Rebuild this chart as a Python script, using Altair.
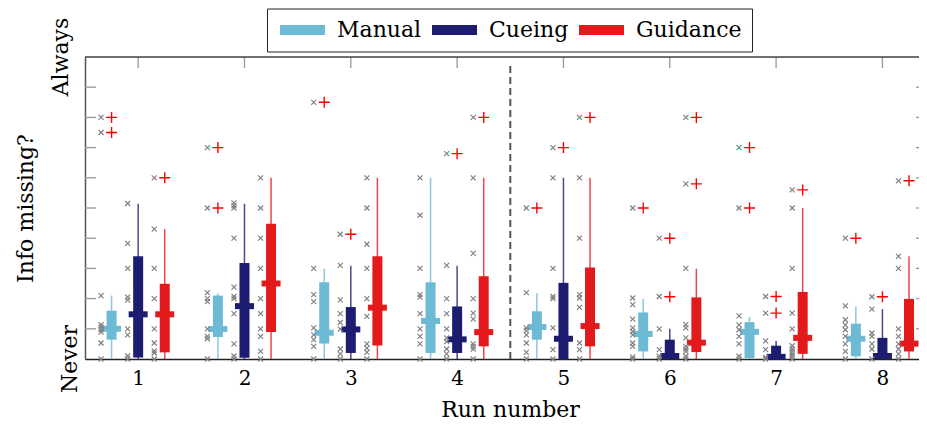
import altair as alt
import pandas as pd

runs = [1, 2, 3, 4, 5, 6, 7, 8]
groups = ["Manual", "Cueing", "Guidance"]
colors = ["#6dbad5", "#1c1c70", "#e31a1c"]
offsets = [-0.25, 0.0, 0.25]

# box statistics per group (one value per run)
manual_low = [0, 0, 0, 0, 0, 0, 0, 0]
manual_q1 = [0.64, 0.73, 0.51, 0.20, 0.64, 0.25, 0.03, 0.09]
manual_med = [1.00, 0.99, 0.87, 1.26, 1.06, 0.83, 0.90, 0.67]
manual_q3 = [1.60, 2.10, 2.54, 2.54, 1.58, 1.54, 1.22, 1.17]
manual_high = [2.10, 2.18, 2.99, 6.00, 2.18, 1.99, 1.39, 1.74]

cueing_low = [0, 0, 0, 0, 0, 0, 0, 0]
cueing_q1 = [0.05, 0.04, 0.20, 0.20, 0.00, 0.00, 0.00, 0.00]
cueing_med = [1.48, 1.75, 0.98, 0.65, 0.67, 0.10, 0.07, 0.10]
cueing_q3 = [3.40, 3.18, 1.72, 1.74, 2.52, 0.64, 0.44, 0.70]
cueing_high = [5.14, 5.14, 3.09, 3.09, 6.00, 1.00, 0.60, 1.65]

guidance_low = [0, 0, 0, 0, 0, 0, 0, 0]
guidance_q1 = [0.22, 0.89, 0.45, 0.42, 0.42, 0.23, 0.17, 0.25]
guidance_med = [1.48, 2.50, 1.70, 0.89, 1.09, 0.54, 0.70, 0.51]
guidance_q3 = [2.49, 4.48, 3.40, 2.74, 3.03, 2.04, 2.22, 1.99]
guidance_high = [4.30, 6.00, 6.00, 6.00, 6.00, 2.99, 5.00, 3.40]

# outliers (+)
manual_outliers = [[8.0, 7.5], [7.0, 5.0], [8.5], [], [5.0], [5.0], [7.0, 5.0], [4.0]]
cueing_outliers = [[], [], [4.13], [6.8], [7.0], [4.0, 2.06], [2.07, 1.52], [2.06]]
guidance_outliers = [[6.0], [], [], [8.0], [8.0], [8.0, 5.8], [5.6], [5.9]]

# raw responses (x)
manual_points = [
    [0, 0.53, 0.89, 0.97, 1.06, 1.14, 2.1, 7.5, 8.0],
    [0, 0.67, 0.75, 1.0, 1.9, 2.0, 2.2, 5.0, 7.0],
    [0, 0.42, 0.64, 0.8, 1.03, 1.9, 2.13, 3.0, 8.5],
    [0, 0.5, 0.75, 1.0, 1.5, 2.05, 2.13, 3.0, 4.76, 6.0],
    [0, 0.22, 0.53, 0.8, 0.94, 1.03, 2.2, 5.0],
    [0, 0.07, 0.42, 0.53, 0.8, 0.91, 1.03, 1.32, 1.8, 2.02, 5.0],
    [0, 0.09, 0.5, 0.75, 0.97, 1.13, 1.43, 5.0, 7.0],
    [0, 0.25, 0.5, 0.75, 0.97, 1.13, 1.3, 1.76, 4.0],
]
cueing_points = [
    [0, 0.1, 0.8, 1.0, 1.95, 2.05, 3.0, 3.83, 5.15],
    [0, 0.1, 0.5, 1.5, 2.0, 2.07, 2.38, 4.0, 5.0, 5.08, 5.17],
    [0, 0.17, 0.33, 0.99, 1.21, 1.5, 1.96, 3.1, 4.13],
    [0, 0.17, 0.33, 0.58, 0.7, 1.0, 1.5, 2.0, 3.1, 6.8],
    [0, 0.31, 1.03, 2.0, 2.07, 3.0, 6.0, 7.0],
    [0, 0.09, 0.31, 1.0, 2.07, 4.0],
    [0, 0.05, 0.31, 0.6, 1.52, 2.07],
    [0, 0.33, 0.5, 0.75, 0.86, 1.65, 2.06],
]
guidance_points = [
    [0, 0.2, 0.27, 0.53, 1.0, 2.0, 3.0, 4.3, 6.0],
    [0, 0.25, 0.75, 1.0, 1.5, 2.0, 3.0, 4.0, 5.0, 6.0],
    [0, 0.22, 0.36, 0.5, 1.41, 2.0, 3.0, 3.8, 5.0, 6.0],
    [0, 0.33, 0.42, 0.5, 1.32, 1.52, 2.0, 3.5, 6.0, 8.0],
    [0, 0.31, 0.53, 1.71, 2.02, 2.13, 4.0, 6.0, 8.0],
    [0, 0.09, 0.25, 0.33, 0.42, 0.7, 1.03, 1.14, 3.0, 5.8, 8.0],
    [0, 0.09, 0.17, 0.25, 0.33, 0.44, 1.0, 1.52, 3.0, 5.0, 5.6],
    [0, 0.17, 0.33, 0.5, 0.75, 1.0, 3.0, 3.4, 5.9],
]

y_ticks = [1, 2, 3, 4, 5, 6, 7, 8, 9]
divider_run = [4.5]

stats = {
    "Manual": (manual_low, manual_q1, manual_med, manual_q3, manual_high, manual_outliers, manual_points),
    "Cueing": (cueing_low, cueing_q1, cueing_med, cueing_q3, cueing_high, cueing_outliers, cueing_points),
    "Guidance": (guidance_low, guidance_q1, guidance_med, guidance_q3, guidance_high, guidance_outliers, guidance_points),
}

box_rows, out_rows, pt_rows = [], [], []
for g, off in zip(groups, offsets):
    lo, q1, med, q3, hi, outs, pts = stats[g]
    for i, r in enumerate(runs):
        x = r + off
        box_rows.append(dict(group=g, x=x, lo=lo[i], q1=q1[i], med=med[i], q3=q3[i], hi=hi[i]))
        for v in outs[i]:
            out_rows.append(dict(group=g, x=x, v=v))
        for v in pts[i]:
            pt_rows.append(dict(group=g, x=x, v=v))
box_df = pd.DataFrame(box_rows)
out_df = pd.DataFrame(out_rows)
pt_df = pd.DataFrame(pt_rows)

W, H = 834, 302
FONT = "DejaVu Serif"
xs = alt.Scale(domain=[0.5, 8.344], nice=False, zero=False, padding=0)
ys = alt.Scale(domain=[0, 10], nice=False, zero=False, padding=0)
cs = alt.Scale(domain=groups, range=colors)

x_axis = alt.Axis(values=runs, format="d", ticks=False, grid=False, labelFont=FONT,
                  labelFontSize=20, labelColor="black", labelPadding=25,
                  labelBaseline="alphabetic", domainColor="#222", domainWidth=1.5,
                  title="Run number", titleFont=FONT, titleFontSize=22,
                  titleFontWeight="normal", titleColor="black", titleX=425,
                  titleY=57.5, titleAlign="center", titleBaseline="alphabetic")
y_axis = alt.Axis(values=[0, 10], labels=False, ticks=False, grid=False,
                  domainColor="#555", domainWidth=1.5, title="Info missing?",
                  titleFont=FONT, titleFontSize=22, titleFontWeight="normal",
                  titleColor="black", titleAngle=270, titleX=-53, titleY=151,
                  titleAlign="center", titleBaseline="alphabetic")


def X(field):
    return alt.X(field, scale=xs, axis=x_axis)


def Y(field):
    return alt.Y(field, scale=ys, axis=y_axis)


layers = []

# whiskers, one layer per group (constant colour, no extra legend)
for g, c in zip(groups, colors):
    layers.append(
        alt.Chart(box_df).transform_filter(alt.datum.group == g)
        .mark_rule(strokeWidth=1.5, color=c, strokeOpacity=0.8)
        .encode(x=X("x:Q"), y=Y("lo:Q"), y2="hi:Q")
    )

# boxes carry the legend
layers.append(
    alt.Chart(box_df).mark_bar(size=10, opacity=1).encode(
        x=X("x:Q"), y=Y("q1:Q"), y2="q3:Q",
        color=alt.Color("group:N", scale=cs, legend=alt.Legend(
            title=None, orient="none", legendX=182, legendY=-48.5, direction="horizontal",
            strokeColor="#222", fillColor="white", padding=10,
            symbolType="M-1,-0.22H1V0.22H-1Z", symbolSize=2025, symbolStrokeWidth=0,
            symbolOpacity=1, clipHeight=23, labelFont=FONT, labelFontSize=22,
            labelColor="black", labelOffset=12, columnPadding=7, symbolOffset=3)),
    )
)

# medians
for g, c in zip(groups, colors):
    layers.append(
        alt.Chart(box_df).transform_filter(alt.datum.group == g)
        .mark_tick(orient="horizontal", size=19, thickness=6, opacity=1, color=c)
        .encode(x=X("x:Q"), y=Y("med:Q"))
    )

# raw responses
layers.append(
    alt.Chart(pt_df).mark_point(shape="M-1,-1L1,1M-1,1L1,-1", size=25, filled=False,
                                strokeWidth=1.2, color="#808080", opacity=1,
                                xOffset=-10.5).encode(x=X("x:Q"), y=Y("v:Q"))
)

# outliers
layers.append(
    alt.Chart(out_df).mark_point(shape="M-1,0H1M0,-1V1", size=121, filled=False,
                                 strokeWidth=1.4, color="#ff0000", opacity=1)
    .encode(x=X("x:Q"), y=Y("v:Q"))
)

# dashed divider between run 4 and run 5
layers.append(
    alt.Chart(pd.DataFrame({"x": divider_run, "lo": [0], "hi": [9.75]})).mark_rule(
        color="#555", strokeWidth=2, strokeDash=[7, 4]).encode(x=X("x:Q"), y=Y("lo:Q"), y2="hi:Q")
)

tick_df = pd.DataFrame({"v": y_ticks})
layers.append(alt.Chart(tick_df).mark_rule(color="#999", strokeWidth=1.3).encode(
    x=alt.value(0), x2=alt.value(11), y=Y("v:Q")))
layers.append(alt.Chart(tick_df).mark_rule(color="#999", strokeWidth=1.3).encode(
    x=alt.value(W - 3), x2=alt.value(W), y=Y("v:Q")))
layers.append(alt.Chart(pd.DataFrame({"r": runs})).mark_rule(color="#999", strokeWidth=1.3).encode(
    x=X("r:Q"), y=alt.value(0), y2=alt.value(11)))
layers.append(alt.Chart(pd.DataFrame({"a": [0]})).mark_rule(color="#444", strokeWidth=1.5).encode(
    x=alt.value(0), x2=alt.value(W), y=alt.value(0)))

layers.append(alt.Chart(pd.DataFrame({"t": ["Never"], "v": [0]})).mark_text(
    angle=270, align="center", baseline="alphabetic", font=FONT, fontSize=22, color="black").encode(
    x=alt.value(-8), y=Y("v:Q"), text="t:N"))
layers.append(alt.Chart(pd.DataFrame({"t": ["Always"], "v": [10]})).mark_text(
    angle=270, align="center", baseline="alphabetic", font=FONT, fontSize=22, color="black").encode(
    x=alt.value(-17.5), y=Y("v:Q"), text="t:N"))

chart = alt.layer(*layers).properties(
    width=W, height=H, autosize="none",
    padding={"left": 77, "top": 49, "right": 0, "bottom": 62},
).configure_view(stroke=None).configure(font=FONT)

chart.save("out.html", embed_options={"renderer": "svg", "actions": False})
